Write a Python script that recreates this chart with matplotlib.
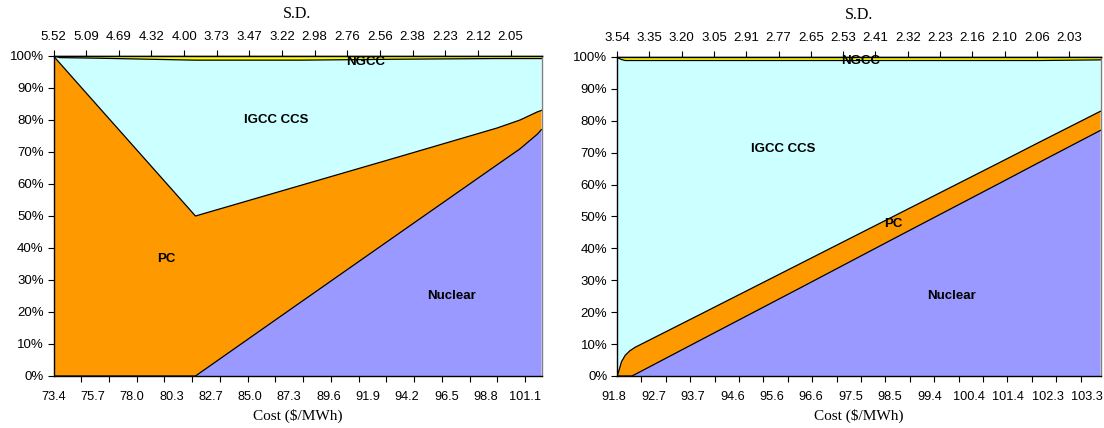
import numpy as np
import matplotlib
matplotlib.use("Agg")
import matplotlib.pyplot as plt
import matplotlib.transforms as mtransforms
from matplotlib.ticker import PercentFormatter, FixedLocator, NullFormatter

plt.rcParams['font.family'] = ['Liberation Sans', 'DejaVu Sans']

# ---------------- data ----------------
tech_names = ["Nuclear", "PC", "IGCC CCS", "NGCC"]
tech_colors = ["#9999FF", "#FF9900", "#CCFFFF", "#FFFF00"]

# Panel A: generation shares (%) along the cost axis ($/MWh)
cost_a = [73.40, 73.78, 76.13, 81.74, 87.88, 93.76, 99.46, 100.81, 101.81, 102.07]
nuclear_a = [0.0, 0.0, 0.0, 0.0, 22.9, 44.8, 66.0, 71.0, 75.5, 77.0]
pc_a = [100.0, 97.7, 83.6, 50.0, 36.6, 23.8, 11.5, 9.0, 7.0, 6.0]
igcc_a = [0.0, 1.8, 15.7, 48.7, 39.2, 30.4, 21.7, 19.2, 16.7, 16.2]
ngcc_a = [0.0, 0.5, 0.7, 1.3, 1.3, 1.0, 0.8, 0.8, 0.8, 0.8]
cost_labels_a = ["73.4", "75.7", "78.0", "80.3", "82.7", "85.0", "87.3",
                 "89.6", "91.9", "94.2", "96.5", "98.8", "101.1"]
sd_labels_a = ["5.52", "5.09", "4.69", "4.32", "4.00", "3.73", "3.47", "3.22",
               "2.98", "2.76", "2.56", "2.38", "2.23", "2.12", "2.05"]

# Panel B
cost_b = [91.80, 91.83, 91.91, 92.00, 92.12, 92.16, 92.24, 93.82, 96.25,
          98.68, 101.11, 102.08, 103.55]
nuclear_b = [0.0, 0.0, 0.0, 0.0, 0.0, 0.0, 0.5, 11.2, 27.6, 44.1, 60.5, 67.1, 77.0]
pc_b = [0.0, 1.0, 4.5, 6.5, 8.0, 8.3, 8.5, 8.1, 7.6, 7.0, 6.5, 6.3, 6.0]
igcc_b = [100.0, 98.7, 94.7, 92.4, 90.9, 90.6, 89.9, 79.6, 63.7, 47.8, 31.9, 25.5, 16.1]
ngcc_b = [0.0, 0.3, 0.8, 1.1, 1.1, 1.1, 1.1, 1.1, 1.1, 1.1, 1.1, 1.1, 0.9]
cost_labels_b = ["91.8", "92.7", "93.7", "94.6", "95.6", "96.6", "97.5",
                 "98.5", "99.4", "100.4", "101.4", "102.3", "103.3"]
sd_labels_b = ["3.54", "3.35", "3.20", "3.05", "2.91", "2.77", "2.65", "2.53",
               "2.41", "2.32", "2.23", "2.16", "2.10", "2.06", "2.03"]

# ---------------- layout ----------------
W, H = 1104, 428
fig = plt.figure(figsize=(W / 100, H / 100), dpi=100)

def px_axes(x0, x1, y0, y1):
    return fig.add_axes([x0 / W, 1 - y1 / H, (x1 - x0) / W, (y1 - y0) / H])

panels = [
    dict(ax=px_axes(53.5, 541.5, 56, 376), cost=cost_a,
         shares=[nuclear_a, pc_a, igcc_a, ngcc_a],
         cost_labels=cost_labels_a, sd_labels=sd_labels_a,
         sd_step=1.918, tick_step=1.630, label_shift_px=0.0,
         text_pos={"NGCC": (91.76, 0.982), "IGCC CCS": (86.47, 0.80),
                   "PC": (80.01, 0.366), "Nuclear": (96.81, 0.250)}),
    dict(ax=px_axes(617, 1100.5, 57, 376), cost=cost_b,
         shares=[nuclear_b, pc_b, igcc_b, ngcc_b],
         cost_labels=cost_labels_b, sd_labels=sd_labels_b,
         sd_step=0.785, tick_step=0.593, label_shift_px=-3.0,
         text_pos={"NGCC": (97.71, 0.988), "IGCC CCS": (95.84, 0.712),
                   "PC": (98.51, 0.477), "Nuclear": (99.94, 0.251)}),
]

serif = ['Liberation Serif', 'DejaVu Serif']
tick_fs = 9.5
xtick_fs = 9.2

for p in panels:
    ax = p["ax"]
    cost = np.asarray(p["cost"], dtype=float)
    layers = np.vstack(p["shares"]) / 100.0
    tops = np.cumsum(layers, axis=0)
    lower = np.zeros_like(cost)
    for top, color in zip(tops, tech_colors):
        ax.fill_between(cost, lower, top, facecolor=color, edgecolor="none",
                        linewidth=0, zorder=1)
        lower = top
    for top in tops[:-1]:
        ax.plot(cost, top, color="black", lw=0.9, zorder=2,
                solid_joinstyle="round")

    ax.set_xlim(cost[0], cost[-1])
    ax.set_ylim(0, 1)

    # y axis
    ax.set_yticks(np.linspace(0, 1, 11))
    ax.yaxis.set_major_formatter(PercentFormatter(1.0, decimals=0))
    ax.tick_params(axis="y", direction="out", length=4, width=0.8,
                   labelsize=tick_fs, pad=3)

    # bottom axis: labels evenly spread, tick marks on their own spacing
    labels = p["cost_labels"]
    label_pos = np.linspace(float(labels[0]), float(labels[-1]), len(labels))
    ax.set_xticks(label_pos, labels)
    ax.tick_params(axis="x", which="major", length=0, labelsize=xtick_fs, pad=11)
    if p["label_shift_px"]:
        shift = mtransforms.ScaledTranslation(p["label_shift_px"] / 100, 0,
                                              fig.dpi_scale_trans)
        for lab in ax.get_xticklabels():
            lab.set_transform(lab.get_transform() + shift)
    n_minor = int(np.floor((cost[-1] - cost[0]) / p["tick_step"] + 1e-6)) + 1
    ax.xaxis.set_minor_locator(FixedLocator(cost[0] + p["tick_step"] * np.arange(n_minor)))
    ax.xaxis.set_minor_formatter(NullFormatter())
    ax.tick_params(axis="x", which="minor", direction="out", length=4, width=0.8)
    ax.set_xlabel("Cost ($/MWh)", family=serif, fontsize=11, labelpad=4)

    # top axis: standard deviation
    sec = ax.secondary_xaxis("top")
    sd = p["sd_labels"]
    sec.set_xticks(cost[0] + p["sd_step"] * np.arange(len(sd)), sd)
    sec.tick_params(direction="out", length=4, width=0.8, labelsize=tick_fs, pad=5.5)
    sec.spines["top"].set_linewidth(1.0)
    sec.set_xlabel("S.D.", family=serif, fontsize=11.5, labelpad=9)

    for side in ("left", "bottom", "top"):
        ax.spines[side].set_color("black")
        ax.spines[side].set_linewidth(1.0)
    ax.spines["right"].set_color("#808080")
    ax.spines["right"].set_linewidth(1.0)

    for name in tech_names:
        x, y = p["text_pos"][name]
        ax.text(x, y, name, ha="center", va="center", fontsize=9.5,
                fontweight="bold", zorder=3)

fig.savefig("out.png", dpi=100)
